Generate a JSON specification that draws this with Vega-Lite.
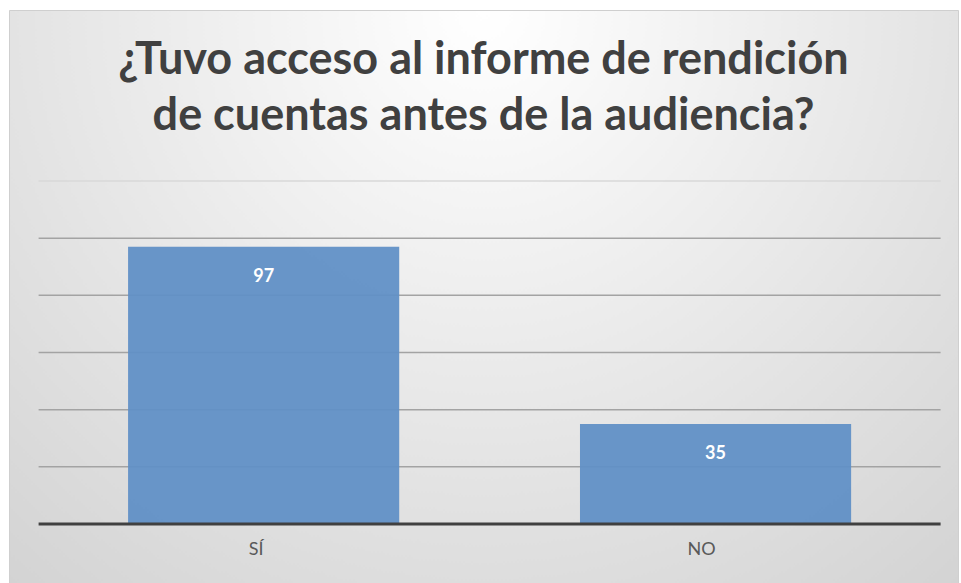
{
  "$schema": "https://vega.github.io/schema/vega-lite/v6.json",
  "width": 961,
  "height": 583,
  "autosize": {"type": "fit", "contains": "padding"},
  "padding": {"left": 9, "top": 10, "right": 3, "bottom": 0},
  "background": "#ffffff",
  "title": {
    "text": ["¿Tuvo acceso al informe de rendición", "de cuentas antes de la audiencia?"],
    "font": "Lato",
    "fontSize": 45,
    "fontWeight": "bold",
    "color": "#404040",
    "lineHeight": 56,
    "anchor": "middle",
    "baseline": "alphabetic",
    "offset": -165
  },
  "config": {
    "view": {
      "fill": {
        "gradient": "radial",
        "x1": 0.5, "y1": 0.2, "x2": 0.5, "y2": 0.2,
        "r1": 0, "r2": 0.8,
        "stops": [
          {"offset": 0, "color": "#ffffff"},
          {"offset": 1, "color": "#d2d2d2"}
        ]
      },
      "stroke": "#cfcfcf"
    }
  },
  "datasets": {
    "answers": [
      {"respuesta": "SÍ", "n": 97},
      {"respuesta": "NO", "n": 35}
    ],
    "grid": [
      {"v": 20}, {"v": 40}, {"v": 60}, {"v": 80}, {"v": 100}, {"v": 120}
    ],
    "base": [
      {"v": 0}
    ]
  },
  "layer": [
    {
      "data": {"name": "grid"},
      "mark": {"type": "rule", "strokeWidth": 1.5},
      "encoding": {
        "y": {"field": "v", "type": "quantitative", "scale": {"domain": [-20.64, 179.83], "nice": false, "zero": false}, "axis": null},
        "x": {"datum": "SÍ", "type": "nominal", "bandPosition": -0.33},
        "x2": {"datum": "NO", "bandPosition": 1.33},
        "color": {"condition": {"test": "datum.v >= 120", "value": "#d8d8d8"}, "value": "#a3a3a3"}
      }
    },
    {
      "data": {"name": "answers"},
      "mark": {"type": "bar", "color": "#6190c6", "opacity": 0.95},
      "encoding": {
        "x": {
          "field": "respuesta", "type": "nominal", "sort": ["SÍ", "NO"],
          "scale": {"paddingInner": 0.4, "paddingOuter": 0.25, "align": 0.527},
          "axis": {"title": null, "domain": false, "ticks": false, "labelAngle": 0, "labelFont": "Lato", "labelFontSize": 18, "labelColor": "#595959", "labelPadding": 25, "offset": -59}
        },
        "y": {"field": "n", "type": "quantitative", "scale": {"domain": [-20.64, 179.83], "nice": false, "zero": false}, "axis": null},
        "y2": {"datum": 0}
      }
    },
    {
      "data": {"name": "answers"},
      "mark": {"type": "text", "color": "#ffffff", "font": "Lato", "fontWeight": "bold", "fontSize": 18, "baseline": "middle", "dy": 30},
      "encoding": {
        "x": {"field": "respuesta", "type": "nominal", "sort": ["SÍ", "NO"]},
        "y": {"field": "n", "type": "quantitative"},
        "text": {"field": "n", "type": "quantitative"}
      }
    },
    {
      "data": {"name": "base"},
      "mark": {"type": "rule", "color": "#404040", "strokeWidth": 3},
      "encoding": {
        "y": {"field": "v", "type": "quantitative"},
        "x": {"datum": "SÍ", "type": "nominal", "bandPosition": -0.33},
        "x2": {"datum": "NO", "bandPosition": 1.33}
      }
    }
  ]
}
